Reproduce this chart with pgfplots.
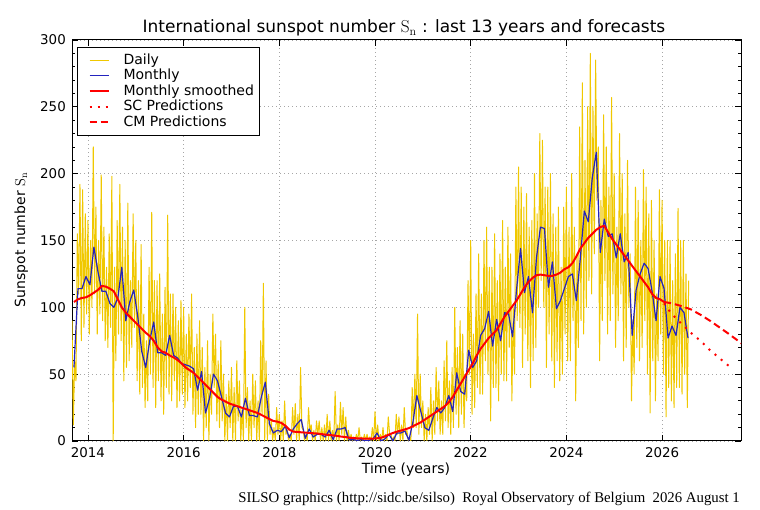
\documentclass[border=0pt]{standalone}
\usepackage[no-math]{fontspec}
\setmainfont{DejaVu Sans}
\newfontfamily\silsofont{Liberation Serif}
\usepackage{pgfplots}
\pgfplotsset{compat=1.18}
\definecolor{dailyc}{RGB}{240,200,0}
\definecolor{monc}{RGB}{35,35,190}
\definecolor{smc}{RGB}{255,0,0}
\begin{document}
\begin{tikzpicture}[x=1pt,y=1pt]
\useasboundingbox (0,0) rectangle (760,510);
\begin{axis}[
  at={(72pt,69pt)}, anchor=south west,
  scale only axis, width=669pt, height=401pt,
  xmin=2013.667, xmax=2027.65, ymin=0, ymax=300,
  xtick={2014,2016,...,2026}, ytick={0,50,...,300},
  minor x tick num=3, minor y tick num=4,
  tick align=inside, xtick pos=both, ytick pos=both,
  major tick length=6pt, minor tick length=3pt,
  tick style={black, line width=0.8pt},
  axis line style={line width=1pt},
  grid=major, major grid style={gray!70, line width=0.7pt, dash pattern=on 1pt off 3pt},
  /pgf/number format/assume math mode=true,
  /pgf/number format/1000 sep={},
  ticklabel style={font=\fontsize{13.4}{16}\selectfont},
  xticklabel style={anchor=base, yshift=-17pt},
  yticklabel style={anchor=east, inner sep=0pt, xshift=-6pt},
  legend style={at={(0.0075,0.9825)}, anchor=north west,
    draw=black, line width=1pt, fill=white,
    font=\fontsize{14}{16}\selectfont,
    inner xsep=5pt, inner ysep=5pt,
    nodes={inner sep=1pt, text height=10.5pt, text depth=3pt},
    /tikz/column sep=13pt, row sep=0pt},
  legend cell align=left,
  legend image code/.code={\path (0pt,0pt); \draw[#1] (6pt,0pt) -- (25pt,0pt);},
]
\addplot[dailyc, line width=1pt, line join=round] table[header=false, row sep=\\, x expr={2013.667+\coordindex/36}, y index=0] {
90\\12\\60\\
45\\155\\110\\
192\\75\\188\\
85\\170\\95\\
165\\80\\150\\
100\\220\\110\\
175\\80\\150\\
95\\199\\90\\
160\\75\\130\\
70\\155\\85\\
198\\0\\130\\
60\\165\\80\\
192\\75\\160\\
45\\150\\55\\
178\\60\\120\\
70\\170\\85\\
150\\45\\120\\
35\\147\\40\\
95\\25\\75\\
30\\130\\50\\
171\\40\\120\\
25\\120\\45\\
125\\30\\95\\
20\\115\\40\\
169\\35\\110\\
30\\110\\45\\
100\\25\\90\\
30\\105\\35\\
100\\25\\80\\
30\\95\\40\\
110\\20\\70\\
10\\80\\20\\
90\\20\\70\\
0\\55\\10\\
75\\0\\50\\
20\\95\\40\\
80\\15\\60\\
10\\75\\15\\
50\\0\\35\\
0\\45\\10\\
55\\0\\40\\
0\\60\\15\\
45\\0\\25\\
0\\100\\10\\
40\\0\\30\\
0\\50\\10\\
45\\0\\30\\
0\\75\\20\\
118\\0\\60\\
0\\35\\5\\
15\\0\\10\\
0\\25\\5\\
20\\0\\15\\
0\\30\\5\\
8\\0\\5\\
0\\25\\5\\
28\\0\\20\\
0\\55\\10\\
8\\0\\5\\
0\\25\\8\\
12\\0\\8\\
0\\15\\5\\
15\\0\\10\\
0\\12\\0\\
20\\0\\15\\
0\\8\\0\\
37\\0\\12\\
0\\29\\5\\
25\\0\\18\\
0\\8\\0\\
5\\0\\3\\
0\\5\\0\\
10\\0\\3\\
0\\5\\0\\
5\\0\\3\\
0\\10\\0\\
22\\0\\12\\
0\\5\\0\\
10\\0\\5\\
0\\18\\5\\
5\\0\\3\\
0\\20\\5\\
18\\0\\12\\
0\\25\\5\\
8\\0\\3\\
0\\40\\10\\
50\\10\\95\\
5\\50\\10\\
30\\0\\20\\
0\\25\\5\\
40\\0\\30\\
5\\55\\15\\
45\\5\\30\\
5\\60\\15\\
75\\10\\45\\
5\\55\\10\\
100\\20\\70\\
10\\90\\20\\
80\\10\\50\\
30\\120\\50\\
150\\20\\80\\
25\\110\\40\\
140\\35\\110\\
35\\150\\60\\
160\\50\\130\\
15\\130\\40\\
155\\40\\120\\
30\\140\\50\\
165\\45\\130\\
45\\160\\70\\
140\\30\\100\\
50\\190\\90\\
205\\85\\190\\
55\\175\\80\\
185\\60\\160\\
40\\165\\60\\
200\\70\\170\\
100\\230\\120\\
225\\100\\190\\
55\\190\\80\\
200\\60\\170\\
40\\160\\60\\
175\\45\\130\\
50\\175\\80\\
190\\60\\160\\
60\\200\\90\\
160\\30\\140\\
70\\235\\90\\
268\\80\\210\\
100\\250\\120\\
290\\110\\250\\
140\\285\\180\\
220\\60\\180\\
90\\244\\120\\
220\\80\\190\\
90\\257\\110\\
200\\70\\160\\
90\\230\\110\\
200\\60\\170\\
70\\210\\100\\
140\\30\\90\\
50\\190\\70\\
180\\60\\150\\
70\\203\\90\\
190\\50\\170\\
21\\180\\60\\
150\\30\\110\\
60\\188\\80\\
180\\50\\150\\
18\\150\\40\\
150\\30\\120\\
25\\140\\40\\
174\\40\\150\\
35\\150\\50\\
125\\25\\120\\
};
\addlegendentry{Daily}
\addplot[monc, line width=1.2pt, line join=round] coordinates {
(2013.708,55) (2013.792,114) (2013.875,114) (2013.958,123)
(2014.042,117) (2014.125,145) (2014.208,127) (2014.292,112) (2014.375,112) (2014.458,103)
(2014.542,100) (2014.625,107) (2014.708,130) (2014.792,90) (2014.875,104) (2014.958,113)
(2015.042,93) (2015.125,67) (2015.208,55) (2015.292,75) (2015.375,89) (2015.458,66)
(2015.542,66) (2015.625,64) (2015.708,79) (2015.792,64) (2015.875,62) (2015.958,58)
(2016.042,57) (2016.125,56) (2016.208,54) (2016.292,38) (2016.375,52) (2016.458,21)
(2016.542,32) (2016.625,50) (2016.708,45) (2016.792,33) (2016.875,21) (2016.958,18)
(2017.042,26) (2017.125,26) (2017.208,18) (2017.292,32) (2017.375,19) (2017.458,19)
(2017.542,18) (2017.625,33) (2017.708,44) (2017.792,13) (2017.875,6) (2017.958,8)
(2018.042,7) (2018.125,11) (2018.208,2.5) (2018.292,9) (2018.375,13) (2018.458,16)
(2018.542,2) (2018.625,9) (2018.708,3) (2018.792,5) (2018.875,5) (2018.958,3)
(2019.042,8) (2019.125,1) (2019.208,9) (2019.292,9) (2019.375,10) (2019.458,1)
(2019.542,1) (2019.625,0.5) (2019.708,1) (2019.792,0.4) (2019.875,0.5) (2019.958,1.5)
(2020.042,6) (2020.125,0.2) (2020.208,1.5) (2020.292,5) (2020.375,0.2) (2020.458,6)
(2020.542,6) (2020.625,7.5) (2020.708,0.6) (2020.792,14) (2020.875,34) (2020.958,22)
(2021.042,10) (2021.125,8) (2021.208,17) (2021.292,25) (2021.375,21) (2021.458,25)
(2021.542,34) (2021.625,22) (2021.708,51) (2021.792,37) (2021.875,35) (2021.958,68)
(2022.042,55) (2022.125,60) (2022.208,79) (2022.292,84) (2022.375,97) (2022.458,71)
(2022.542,91) (2022.625,75) (2022.708,96) (2022.792,95) (2022.875,78) (2022.958,113)
(2023.042,144) (2023.125,111) (2023.208,123) (2023.292,96) (2023.375,137) (2023.458,160)
(2023.542,159) (2023.625,115) (2023.708,134) (2023.792,99) (2023.875,105) (2023.958,114)
(2024.042,123) (2024.125,125) (2024.208,105) (2024.292,137) (2024.375,172) (2024.458,164)
(2024.542,197) (2024.625,216) (2024.708,141) (2024.792,166) (2024.875,153) (2024.958,155)
(2025.042,137) (2025.125,155) (2025.208,134) (2025.292,141) (2025.375,79) (2025.458,113)
(2025.542,125) (2025.625,133) (2025.708,129) (2025.792,112) (2025.875,90) (2025.958,123)
(2026.042,114) (2026.125,77) (2026.208,86) (2026.292,79) (2026.375,100) (2026.458,96)
(2026.542,77)
};
\addlegendentry{Monthly}
\addplot[smc, line width=2pt, line join=round] coordinates {
(2013.708,104) (2013.792,106) (2013.875,107) (2013.958,107.5)
(2014.042,109) (2014.125,111) (2014.208,113) (2014.292,116) (2014.375,115.5) (2014.458,114)
(2014.542,112) (2014.625,106) (2014.708,100) (2014.792,96) (2014.875,93) (2014.958,90)
(2015.042,87) (2015.125,84) (2015.208,81) (2015.292,78.5) (2015.375,75) (2015.458,70)
(2015.542,67) (2015.625,66) (2015.708,64) (2015.792,62.5) (2015.875,60.5) (2015.958,58)
(2016.042,55) (2016.125,53) (2016.208,51) (2016.292,48) (2016.375,45) (2016.458,42)
(2016.542,39) (2016.625,36) (2016.708,33) (2016.792,31) (2016.875,29.5) (2016.958,28)
(2017.042,27) (2017.125,26) (2017.208,25) (2017.292,24) (2017.375,23) (2017.458,22)
(2017.542,21) (2017.625,19.5) (2017.708,18) (2017.792,16.5) (2017.875,15) (2017.958,14.5)
(2018.042,13.5) (2018.125,11.5) (2018.208,8.5) (2018.292,7) (2018.375,6.8) (2018.458,6.5)
(2018.542,6.3) (2018.625,6) (2018.708,5.8) (2018.792,5.6) (2018.875,5.2) (2018.958,4.8)
(2019.042,4.5) (2019.125,4.2) (2019.208,3.8) (2019.292,3.3) (2019.375,3) (2019.458,2.5)
(2019.542,2.2) (2019.625,2) (2019.708,1.9) (2019.792,1.8) (2019.875,1.8) (2019.958,1.8)
(2020.042,2) (2020.125,2.4) (2020.208,3.5) (2020.292,4.8) (2020.375,6) (2020.458,7)
(2020.542,7.8) (2020.625,8.7) (2020.708,9.6) (2020.792,11) (2020.875,12.5) (2020.958,14)
(2021.042,16) (2021.125,18) (2021.208,20) (2021.292,22) (2021.375,24) (2021.458,26)
(2021.542,29) (2021.625,33) (2021.708,38) (2021.792,43) (2021.875,48) (2021.958,53)
(2022.042,58) (2022.125,64) (2022.208,69) (2022.292,73) (2022.375,77) (2022.458,80)
(2022.542,83) (2022.625,88) (2022.708,93) (2022.792,97) (2022.875,101) (2022.958,105)
(2023.042,110) (2023.125,115) (2023.208,119) (2023.292,122) (2023.375,124) (2023.458,124.5)
(2023.542,124) (2023.625,123.5) (2023.708,123.5) (2023.792,124.5) (2023.875,126) (2023.958,128.5)
(2024.042,130) (2024.125,133) (2024.208,138) (2024.292,144) (2024.375,148) (2024.458,152)
(2024.542,155) (2024.625,158) (2024.708,160) (2024.792,161) (2024.875,156) (2024.958,151)
(2025.042,147) (2025.125,143) (2025.208,139) (2025.292,135) (2025.375,131) (2025.458,127)
(2025.542,123) (2025.625,119) (2025.708,115) (2025.792,110) (2025.875,107) (2025.958,106)
(2026.042,104)
};
\addlegendentry{Monthly smoothed}
\addplot[smc, line width=2pt, dash pattern=on 2pt off 6pt] coordinates {
(2026.042,103) (2026.2,95) (2026.4,88) (2026.6,81) (2026.8,75) (2027.0,68) (2027.2,62) (2027.45,54.5)
};
\addlegendentry{SC Predictions}
\addplot[smc, line width=2pt, dash pattern=on 7pt off 4pt] coordinates {
(2026.042,104) (2026.2,103) (2026.4,101) (2026.6,98.5) (2026.8,94.5) (2027.0,90) (2027.2,85) (2027.4,80) (2027.55,76) (2027.7,72)
};
\addlegendentry{CM Predictions}
\end{axis}
\node[anchor=base, font=\fontsize{17}{20}\selectfont] at (404,477) {International sunspot number $\mathrm{S}_{\mathrm{n}}$ : last 13 years and forecasts};
\node[anchor=base, font=\fontsize{14}{16}\selectfont] at (406,36) {Time (years)};
\node[rotate=90, anchor=base, font=\fontsize{14}{16}\selectfont] at (25,270) {Sunspot number $\mathrm{S}_{\mathrm{n}}$};
\node[anchor=base east, inner sep=0pt, font=\silsofont\fontsize{14.8}{17}\selectfont] at (740,7) {SILSO graphics (http://sidc.be/silso)\ \ Royal Observatory of Belgium\ \ 2026 August 1};
\end{tikzpicture}
\end{document}
